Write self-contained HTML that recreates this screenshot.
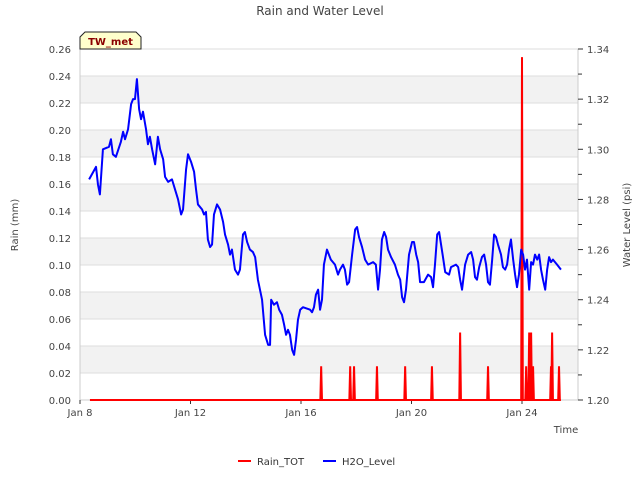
<!DOCTYPE html>
<html><head><meta charset="utf-8"><style>
body{margin:0;background:#fff;}
svg{display:block;font-family:"DejaVu Sans","Liberation Sans",sans-serif;}
</style></head><body>
<svg id="chart" width="640" height="480" viewBox="0 0 640 480">
<text x="320" y="15" text-anchor="middle" font-size="12" fill="#444">Rain and Water Level</text>
<g id="bands"></g>
<g id="grid"></g>
<g id="axes"></g>
<g id="series"></g>
<g>
<path d="M80,49 L80,37 L85,32 L136,32 L141,37 L141,49 Z" fill="#ffffcc" stroke="#222" stroke-width="1"/>
<text x="110.5" y="45" text-anchor="middle" font-size="10" font-weight="bold" fill="#8b0000">TW_met</text>
</g>
<text transform="translate(18,225) rotate(-90)" text-anchor="middle" font-size="10" fill="#444">Rain (mm)</text>
<text transform="translate(630,225) rotate(-90)" text-anchor="middle" font-size="10" fill="#444">Water Level (psi)</text>
<text x="566" y="433" text-anchor="middle" font-size="10" fill="#444">Time</text>
<g>
<g><line x1="238" y1="461" x2="251" y2="461" stroke="#ff0000" stroke-width="2"/><text x="257" y="465" font-size="10" fill="#333">Rain_TOT</text></g>
<g><line x1="323" y1="461" x2="336" y2="461" stroke="#0000ff" stroke-width="2"/><text x="342" y="465" font-size="10" fill="#333">H2O_Level</text></g>
</g>
</svg>
<script>
const rainTicks=["0.00","0.02","0.04","0.06","0.08","0.10","0.12","0.14","0.16","0.18","0.20","0.22","0.24","0.26"];
const levelTicks=["1.20","1.22","1.24","1.26","1.28","1.30","1.32","1.34"];
const xTickLabels=["Jan 8","Jan 12","Jan 16","Jan 20","Jan 24"];
const xTickDays=[0,4,8,12,16];
const levelDays=[0.33,0.58,0.65,0.72,0.83,1.05,1.12,1.19,1.30,1.48,1.56,1.63,1.74,1.85,1.92,1.99,2.06,2.14,2.21,2.28,2.39,2.46,2.53,2.61,2.72,2.82,2.90,3.01,3.08,3.19,3.33,3.44,3.55,3.66,3.73,3.84,3.91,4.02,4.13,4.20,4.27,4.42,4.49,4.56,4.63,4.71,4.78,4.85,4.96,5.07,5.18,5.25,5.36,5.43,5.50,5.61,5.72,5.79,5.90,5.97,6.05,6.15,6.26,6.34,6.44,6.59,6.70,6.81,6.88,6.92,7.02,7.13,7.21,7.31,7.39,7.46,7.53,7.60,7.68,7.75,7.82,7.89,7.97,8.07,8.33,8.40,8.47,8.54,8.62,8.69,8.76,8.83,8.94,9.08,9.23,9.34,9.41,9.52,9.59,9.67,9.74,9.85,9.96,10.03,10.10,10.21,10.32,10.43,10.61,10.71,10.79,10.86,10.93,11.01,11.08,11.15,11.26,11.40,11.51,11.59,11.66,11.73,11.80,11.91,12.02,12.09,12.17,12.24,12.31,12.45,12.60,12.71,12.78,12.85,12.93,13.00,13.07,13.14,13.22,13.36,13.43,13.61,13.69,13.76,13.83,13.94,14.05,14.16,14.23,14.30,14.37,14.45,14.55,14.63,14.70,14.77,14.84,14.92,14.99,15.06,15.13,15.24,15.31,15.39,15.46,15.53,15.60,15.68,15.75,15.82,15.89,15.97,16.04,16.11,16.18,16.26,16.33,16.40,16.47,16.55,16.62,16.69,16.76,16.84,16.91,16.98,17.05,17.12,17.27,17.41];
const levelValues=[1.288,1.293,1.286,1.282,1.300,1.301,1.304,1.298,1.297,1.303,1.307,1.304,1.308,1.318,1.320,1.320,1.328,1.316,1.312,1.315,1.308,1.302,1.305,1.300,1.294,1.305,1.300,1.296,1.289,1.287,1.288,1.284,1.280,1.274,1.276,1.292,1.298,1.295,1.291,1.284,1.278,1.276,1.274,1.275,1.264,1.261,1.262,1.274,1.278,1.276,1.271,1.266,1.262,1.258,1.260,1.252,1.250,1.252,1.266,1.267,1.263,1.260,1.259,1.257,1.248,1.240,1.226,1.222,1.222,1.240,1.238,1.239,1.236,1.234,1.230,1.226,1.228,1.226,1.220,1.218,1.224,1.232,1.236,1.237,1.236,1.235,1.237,1.242,1.244,1.236,1.240,1.254,1.260,1.256,1.254,1.250,1.252,1.254,1.252,1.246,1.247,1.258,1.268,1.269,1.265,1.261,1.256,1.254,1.255,1.254,1.244,1.252,1.264,1.267,1.265,1.260,1.257,1.254,1.250,1.248,1.241,1.239,1.244,1.258,1.263,1.263,1.258,1.255,1.247,1.247,1.250,1.249,1.245,1.254,1.266,1.267,1.262,1.257,1.251,1.250,1.253,1.254,1.253,1.248,1.244,1.254,1.258,1.259,1.256,1.249,1.248,1.253,1.257,1.258,1.254,1.247,1.246,1.256,1.266,1.265,1.262,1.258,1.253,1.252,1.254,1.260,1.264,1.256,1.250,1.245,1.250,1.260,1.258,1.252,1.256,1.244,1.255,1.254,1.258,1.256,1.258,1.252,1.248,1.244,1.252,1.257,1.255,1.256,1.254,1.252];
const rainDays=[8.73,9.78,9.92,10.75,11.77,12.74,13.76,14.77,16.00,16.15,16.26,16.33,16.40,17.05,17.09,17.34];
const rainValues=[0.025,0.025,0.025,0.025,0.025,0.025,0.05,0.025,0.254,0.025,0.05,0.05,0.025,0.025,0.05,0.025];
const rainStart=0.36, rainEnd=17.41;

const NS="http://www.w3.org/2000/svg";
const L=80,R=578,T=49,B=400;
const xS=d=>L+d*(522-80)/16;
const yRain=v=>B-v/0.26*(B-T);
const yLev=v=>B-(v-1.20)/0.14*(B-T);
function mk(tag,attrs,parent){const e=document.createElementNS(NS,tag);for(const k in attrs)e.setAttribute(k,attrs[k]);parent.appendChild(e);return e;}
const bands=document.getElementById('bands'),grid=document.getElementById('grid'),axes=document.getElementById('axes'),series=document.getElementById('series');
for(let i=0;i<rainTicks.length-1;i++){
  if(i%2===1){const r=mk('rect',{x:L,y:yRain(+rainTicks[i+1]),width:R-L,height:yRain(+rainTicks[i])-yRain(+rainTicks[i+1]),fill:'#f2f2f2'},bands);
  
  }
}
rainTicks.forEach(t=>{const y=yRain(+t);
  const ln=mk('line',{x1:L,x2:R,y1:y,y2:y,stroke:'#dddddd','stroke-width':1},grid);
  
  
  const tx=mk('text',{x:71,y:y+4,'text-anchor':'end','font-size':10,fill:'#444'},axes);tx.textContent=t;
  
  
});
mk('line',{x1:L,x2:L,y1:T,y2:B,stroke:'#cccccc'},axes);
mk('line',{x1:R,x2:R,y1:T,y2:B,stroke:'#cccccc'},axes);
mk('line',{x1:L,x2:R,y1:B,y2:B,stroke:'#cccccc'},axes);
levelTicks.forEach((t,i)=>{const y=yLev(+t);
  mk('line',{x1:R,x2:R+5,y1:y,y2:y,stroke:'#333'},axes);
  if(i<levelTicks.length-1){const ym=yLev(+t+0.01);mk('line',{x1:R,x2:R+4,y1:ym,y2:ym,stroke:'#333'},axes);}
  const tx=mk('text',{x:587,y:y+4,'font-size':10,fill:'#444'},axes);tx.textContent=t;
  
  
});
xTickDays.forEach((d,i)=>{const x=xS(d);
  mk('line',{x1:x,x2:x,y1:B,y2:B+4,stroke:'#333'},axes);
  const tx=mk('text',{x:x,y:416,'text-anchor':'middle','font-size':10,fill:'#444'},axes);tx.textContent=xTickLabels[i];
  
  
});
let pts=[[xS(rainStart),yRain(0)]];
rainDays.forEach((d,i)=>{pts.push([xS(d-0.03),yRain(0)],[xS(d),yRain(rainValues[i])],[xS(d+0.03),yRain(0)]);});
pts.push([xS(rainEnd),yRain(0)]);
const rain=mk('polyline',{points:pts.map(p=>p.join(',')).join(' '),fill:'none',stroke:'#ff0000','stroke-width':2},series);


const lev=mk('polyline',{points:levelDays.map((d,i)=>xS(d)+','+yLev(levelValues[i])).join(' '),fill:'none',stroke:'#0000ff','stroke-width':2,'stroke-linejoin':'round'},series);


</script>
</body></html>
